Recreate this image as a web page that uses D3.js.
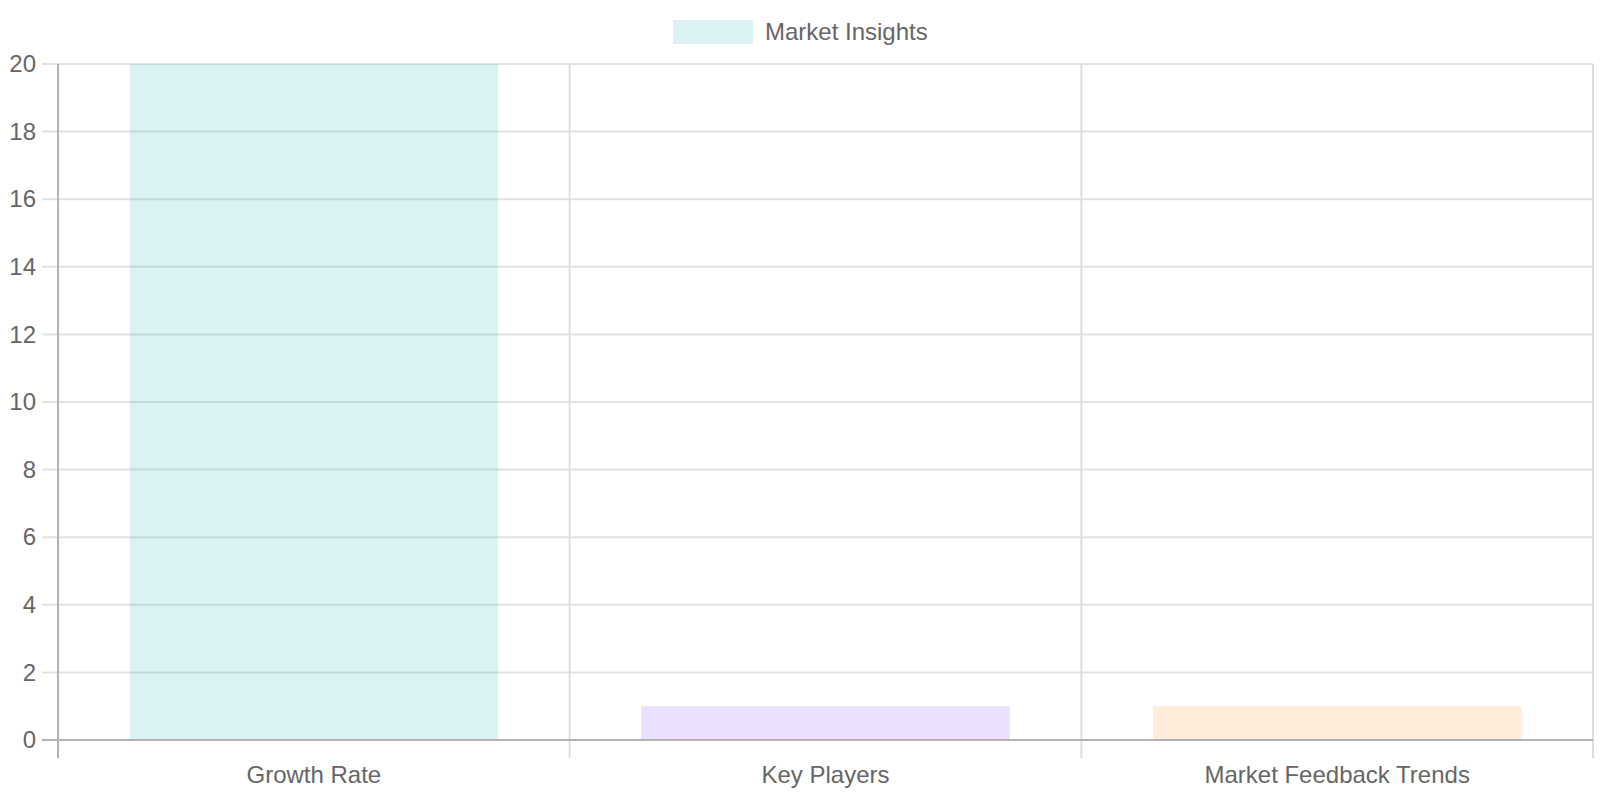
<!DOCTYPE html>
<html>
<head>
<meta charset="utf-8">
<script src="https://cdn.jsdelivr.net/npm/d3@7"></script>
<style>
  body { margin: 0; background: #fff; }
  text { font-family: "Liberation Sans", Arial, sans-serif; fill: #666; }
</style>
</head>
<body>
<div id="chart"></div>
<script>
// chart data
var categories = ["Growth Rate", "Key Players", "Market Feedback Trends"];
var values = [20, 1, 1];
var barColors = ["rgba(75,192,192,0.2)", "rgba(153,102,255,0.2)", "rgba(255,159,64,0.2)"];
var seriesName = "Market Insights";
var yTicks = [0, 2, 4, 6, 8, 10, 12, 14, 16, 18, 20];

var svgWidth = 1600;
var svgHeight = 800;
var margin = { top: 64, right: 7, bottom: 60, left: 58 };
var width = svgWidth - margin.left - margin.right;
var height = svgHeight - margin.top - margin.bottom;
var fontSize = 24;

var svg = d3.select("#chart")
  .append("svg")
  .attr("width", svgWidth)
  .attr("height", svgHeight);

var chartGroup = svg.append("g")
  .attr("transform", `translate(${margin.left}, ${margin.top})`);

// scales
var xScale = d3.scaleBand()
  .domain(categories)
  .range([0, width])
  .padding(0);

var yScale = d3.scaleLinear()
  .domain([0, 20])
  .range([height, 0]);

// horizontal grid lines (with small ticks on the left)
chartGroup.append("g")
  .selectAll("line")
  .data(yTicks)
  .enter()
  .append("line")
  .attr("x1", -16)
  .attr("x2", width)
  .attr("y1", d => yScale(d))
  .attr("y2", d => yScale(d))
  .attr("stroke", "#e2e2e2")
  .attr("stroke-width", 2);

// vertical grid lines at category boundaries
var bounds = categories.map(c => xScale(c)).concat([width]);
chartGroup.append("g")
  .selectAll("line")
  .data(bounds)
  .enter()
  .append("line")
  .attr("x1", d => d)
  .attr("x2", d => d)
  .attr("y1", 0)
  .attr("y2", height + 18)
  .attr("stroke", (d, i) => i === 0 ? "#b3b3b3" : "#dedede")
  .attr("stroke-width", 2);

// bars (translucent, grid shows through)
chartGroup.selectAll("rect.bar")
  .data(values)
  .enter()
  .append("rect")
  .attr("class", "bar")
  .attr("x", (d, i) => xScale(categories[i]) + xScale.bandwidth() * 0.14)
  .attr("width", xScale.bandwidth() * 0.72)
  .attr("y", d => yScale(d))
  .attr("height", d => height - yScale(d))
  .attr("fill", (d, i) => barColors[i]);

// x axis baseline
chartGroup.append("line")
  .attr("x1", -16)
  .attr("x2", width)
  .attr("y1", height)
  .attr("y2", height)
  .attr("stroke", "#b3b3b3")
  .attr("stroke-width", 2);

// y tick labels
var leftAxis = d3.axisLeft(yScale).tickValues(yTicks).tickSize(0).tickPadding(22);
var yAxis = chartGroup.append("g").call(leftAxis);
yAxis.select(".domain").remove();
yAxis.selectAll("text")
  .attr("font-size", fontSize)
  .attr("font-family", "Liberation Sans, Arial, sans-serif")
  .attr("fill", "#666");

// x tick labels
var bottomAxis = d3.axisBottom(xScale).tickSize(0).tickPadding(26);
var xAxis = chartGroup.append("g")
  .attr("transform", `translate(0, ${height})`)
  .call(bottomAxis);
xAxis.select(".domain").remove();
xAxis.selectAll("text")
  .attr("font-size", fontSize)
  .attr("font-family", "Liberation Sans, Arial, sans-serif")
  .attr("fill", "#666");

// legend
var legend = svg.append("g")
  .attr("transform", "translate(673, 20)");
legend.append("rect")
  .attr("width", 80)
  .attr("height", 24)
  .attr("fill", barColors[0]);
legend.append("text")
  .attr("x", 92)
  .attr("y", 12)
  .attr("dy", "0.35em")
  .attr("font-size", fontSize)
  .text(seriesName);
</script>
</body>
</html>
